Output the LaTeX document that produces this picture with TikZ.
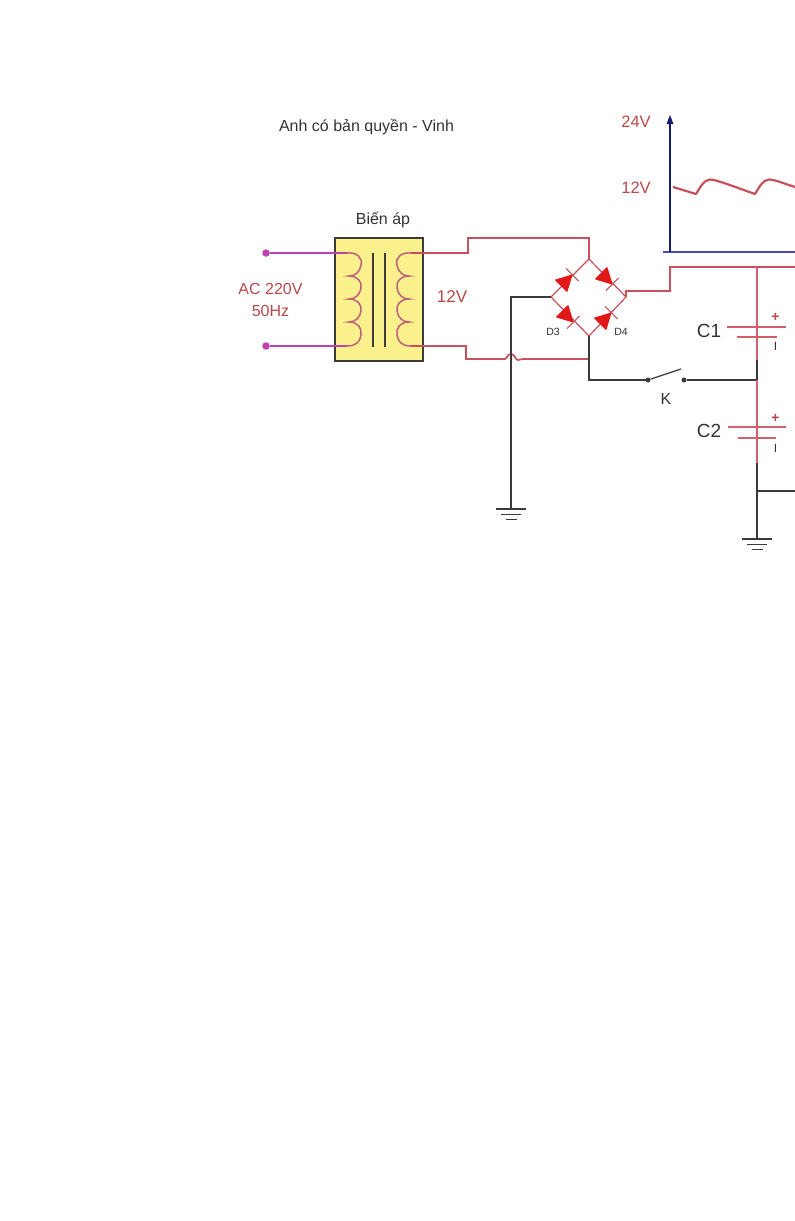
\documentclass[tikz,border=0pt]{standalone}
\usepackage{fontspec}
\setmainfont{Liberation Sans}
\definecolor{wirered}{HTML}{C8505A}
\definecolor{capred}{HTML}{D0606A}
\definecolor{wireblack}{HTML}{3A3A3A}
\definecolor{magwire}{HTML}{C040B0}
\definecolor{txtred}{HTML}{B84848}
\definecolor{txtgray}{HTML}{333333}
\definecolor{boxyellow}{HTML}{FAF08C}
\definecolor{coilcol}{HTML}{C0607A}
\definecolor{axnavy}{HTML}{1A1A70}
\definecolor{axblue}{HTML}{4A4AB0}
\definecolor{diodered}{HTML}{E01818}
\tikzset{
  redwire/.style={draw=wirered,line width=1.7pt,line join=miter},
  blackwire/.style={draw=wireblack,line width=1.6pt},
  magline/.style={draw=magwire,line width=1.5pt},
  coilline/.style={draw=coilcol,line width=1.5pt},
  termdot/.style={circle,fill=magwire,inner sep=0pt,minimum size=7.5pt},
  swdot/.style={circle,fill=wireblack,inner sep=0pt,minimum size=5pt},
  lab/.style={inner sep=0pt,font=\fontsize{16}{18}\selectfont,text=txtgray},
  redlab/.style={lab,text=txtred},
  smalllab/.style={lab,font=\fontsize{10.5}{12}\selectfont},
  capplate/.style={draw=capred,line width=1.8pt},
  diodeshape/.style={fill=diodered,draw=diodered,line width=1pt,line join=round},
  diodebar/.style={draw=wirered,line width=1.2pt}
}
\newcommand{\mydiode}[2]{% position, angle
  \begin{scope}[shift={(#1)},rotate=#2]
    \filldraw[diodeshape] (-8,-8) -- (7,0) -- (-8,8) -- cycle;
    \draw[diodebar] (7.5,-9) -- (7.5,9);
  \end{scope}}
\newcommand{\myground}[1]{%
  \begin{scope}[shift={(#1)}]
    \draw[blackwire] (-15,0) -- (15,0);
    \draw[blackwire] (-10,5.5) -- (10,5.5);
    \draw[blackwire] (-5.5,10.5) -- (5.5,10.5);
  \end{scope}}
\begin{document}
\begin{tikzpicture}[x=1pt,y=-1pt]
\useasboundingbox (0,0) rectangle (795,1221);
% coordinates
\coordinate (T1) at (266,253);
\coordinate (T2) at (266,346);
\coordinate (top) at (589,259);
\coordinate (left) at (551,297);
\coordinate (right) at (626,297);
\coordinate (bot) at (589,336);
\coordinate (capbus) at (757,267);
\coordinate (capJ) at (757,380);
\coordinate (capE) at (757,463);
\coordinate (capB) at (757,491);
\coordinate (capG) at (757,539);
\coordinate (gnd1) at (511,509);
\coordinate (outR) at (795,491);
\coordinate (busR) at (795,267);
\coordinate (k1) at (648,380);
\coordinate (k2) at (684,380);
% transformer
\node[draw=wireblack,line width=1.6pt,fill=boxyellow,minimum width=88pt,minimum height=123pt,inner sep=0pt] (xf) at (379,299.5) {};
\node[termdot] (dot1) at (T1) {};
\node[termdot] (dot2) at (T2) {};
\draw[magline] (dot1) -- (347,253);
\draw[magline] (dot2) -- (347,346);
\draw[coilline] (347,253) .. controls (357,252) and (363,258) .. (361,265)
  .. controls (360,272) and (355,276) .. (349,276)
  .. controls (358,276) and (362,282) .. (361,288)
  .. controls (360,295) and (355,299) .. (349,299)
  .. controls (358,299) and (362,305) .. (361,311)
  .. controls (360,318) and (355,322) .. (349,322)
  .. controls (358,322) and (362,328) .. (361,335)
  .. controls (360,342) and (356,346) .. (347,346);
\draw[coilline] (411,253) .. controls (401,252) and (395,258) .. (397,265)
  .. controls (398,272) and (403,276) .. (409,276)
  .. controls (400,276) and (396,282) .. (397,288)
  .. controls (398,295) and (403,299) .. (409,299)
  .. controls (400,299) and (396,305) .. (397,311)
  .. controls (398,318) and (403,322) .. (409,322)
  .. controls (400,322) and (396,328) .. (397,335)
  .. controls (398,342) and (402,346) .. (411,346);
\draw[blackwire] (373,253) -- (373,347);
\draw[blackwire] (385,253) -- (385,347);
% secondary wires
\draw[redwire] (411,253) -- (468,253) -- (468,238) -- (589,238) -- (top);
\draw[redwire] (411,346) -- (466,346) -- (466,359) -- (505,359)
  .. controls (507,359) and (507,354) .. (511,354)
  .. controls (515,354) and (515,360) .. (518,360)
  .. controls (520,360) and (520,359) .. (523,359) -- (589,359);
\draw[redwire,line width=1.2pt] (top) -- (left) -- (bot) -- (right) -- cycle;
\draw[redwire] (right) -- (626,291) -- (670,291) -- (670,267) -- (busR);
% diodes
\mydiode{567,280}{45}
\mydiode{607,279}{-45}
\mydiode{568,317}{-45}
\mydiode{606,318}{45}
% black wires
\draw[blackwire] (left) -- (511,297) -- (gnd1);
\myground{gnd1}
\draw[blackwire] (bot) -- (589,380) -- (k1);
\node[swdot] (k1d) at (k1) {};
\node[swdot] (k2d) at (k2) {};
\draw[blackwire,line width=1.2pt] (k1d) -- (681,369);
\draw[blackwire] (k2d) -- (capJ);
% capacitor bus
\draw[capred,line width=1.9pt] (capbus) -- (capE);
\draw[blackwire] (757,360) -- (capJ);
\draw[wireblack,line width=1.9pt] (capE) -- (capG);
\draw[blackwire] (capB) -- (outR);
\myground{capG}
% capacitors
\draw[capplate] (727,327) -- (786,327);
\draw[capplate] (737,337) -- (777,337);
\draw[capplate] (728,427) -- (786,427);
\draw[capplate] (738,438) -- (776,438);
\node[redlab,font=\bfseries\fontsize{14}{14}\selectfont] (cp1) at (775.5,317) {+};
\node[redlab,font=\fontsize{12}{12}\selectfont,text=txtgray] (cm1) at (775.5,346) {I};
\node[redlab,font=\bfseries\fontsize{14}{14}\selectfont] (cp2) at (775.5,418) {+};
\node[redlab,font=\fontsize{12}{12}\selectfont,text=txtgray] (cm2) at (775.5,448) {I};
% graph
\draw[axblue,line width=1.6pt] (663,252) -- (795,252);
\draw[axnavy,line width=1.6pt] (670,252) -- (670,120);
\fill[axnavy] (670,115) -- (673.5,124) -- (666.5,124) -- cycle;
\draw[wirered,line width=2.2pt,line join=round] (673,187) -- (696,194)
  .. controls (700,188) and (703,180) .. (710,179.5)
  .. controls (716,179.5) and (735,187) .. (755,194)
  .. controls (759,188) and (762,180) .. (769,179.5)
  .. controls (775,179.5) and (785,184) .. (795,187);
% labels
\node[lab] (title) at (366.5,127) {Anh có bản quyền - Vinh};
\node[lab] (bienap) at (383,220) {Biến áp};
\node[redlab] (ac) at (270.5,289) {AC 220V};
\node[redlab] (hz) at (270.5,311) {50Hz};
\node[redlab,font=\fontsize{17}{18}\selectfont] (v12a) at (452,297) {12V};
\node[redlab,font=\fontsize{16.5}{18}\selectfont] (v24) at (636,122) {24V};
\node[redlab,font=\fontsize{16.5}{18}\selectfont] (v12b) at (636,188) {12V};
\node[smalllab] (d3) at (553,332) {D3};
\node[smalllab] (d4) at (621,332) {D4};
\node[lab,font=\fontsize{19}{20}\selectfont] (c1) at (709,331) {C1};
\node[lab,font=\fontsize{19}{20}\selectfont] (c2) at (709,431) {C2};
\node[lab] (k) at (666,399) {K};
\end{tikzpicture}
\end{document}
